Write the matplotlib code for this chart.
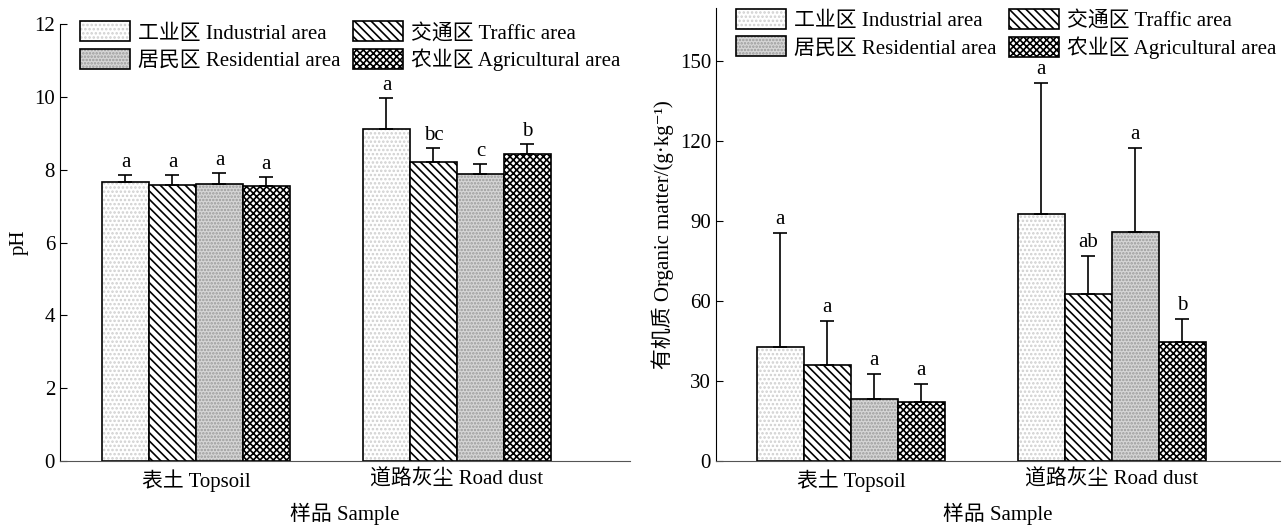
import numpy as np
import matplotlib
matplotlib.use("Agg")
import matplotlib.pyplot as plt
from matplotlib.patches import Patch
from matplotlib.legend_handler import HandlerTuple

plt.rcParams['font.family'] = ['Liberation Serif', 'Noto Sans CJK SC', 'DejaVu Serif']
plt.rcParams['hatch.linewidth'] = 1.2

groups = ['表土 Topsoil', '道路灰尘 Road dust']
areas = ['工业区 Industrial area', '交通区 Traffic area',
         '居民区 Residential area', '农业区 Agricultural area']

# pH: mean and error per area, [topsoil, road dust]
ph_mean = [[7.66, 9.12], [7.58, 8.21], [7.60, 7.88], [7.55, 8.43]]
ph_err = [[0.20, 0.85], [0.27, 0.39], [0.30, 0.27], [0.25, 0.27]]
ph_sig = [['a', 'a'], ['a', 'bc'], ['a', 'c'], ['a', 'b']]

om_mean = [[42.7, 92.6], [36.0, 62.6], [23.2, 85.9], [22.1, 44.6]]
om_err = [[42.8, 49.1], [16.5, 14.3], [9.4, 31.5], [6.8, 8.6]]
om_sig = [['a', 'a'], ['a', 'ab'], ['a', 'a'], ['a', 'b']]

# face, hatch, hatch colour
styles = [('white', '....', '#cfcfcf'),
          ('white', '\\\\\\\\', 'black'),
          ('#d6d6d6', '.....', '#9a9a9a'),
          ('white', 'xxxxx', 'black')]

width = 0.18
x = np.arange(len(groups))


def draw(ax, means, errs, sigs, ylim, yticks, ylabel, offset, leg_y):
    for i in range(4):
        face, hatch, hc = styles[i]
        pos = x + (i - 1.5) * width
        ax.bar(pos, means[i], width, color=face, hatch=hatch, edgecolor=hc, linewidth=0)
        ax.bar(pos, means[i], width, fill=False, edgecolor='black', linewidth=1.2)
        ax.errorbar(pos, means[i], yerr=[np.zeros(2), errs[i]], fmt='none',
                    ecolor='black', elinewidth=1.2, capsize=5, capthick=1.2)
        for j in range(2):
            ax.text(pos[j], means[i][j] + errs[i][j] + offset, sigs[i][j],
                    ha='center', va='bottom', fontsize=15)
    ax.set_ylim(*ylim)
    ax.set_yticks(yticks)
    ax.set_xticks(x)
    ax.set_xticklabels(groups, fontsize=15)
    ax.tick_params(axis='x', length=0, pad=6)
    ax.tick_params(axis='y', direction='in', labelsize=15, length=5)
    ax.spines['top'].set_visible(False)
    ax.spines['right'].set_visible(False)
    ax.spines['bottom'].set_color('#555555')
    ax.set_xlabel('样品 Sample', fontsize=15, labelpad=8)
    ax.set_ylabel(ylabel, fontsize=15)
    handles = []
    for face, hatch, hc in styles:
        handles.append((Patch(facecolor=face, hatch=hatch, edgecolor=hc, linewidth=0),
                        Patch(fill=False, edgecolor='black', linewidth=1.2)))
    order = [0, 2, 1, 3]
    ax.legend([handles[k] for k in order], [areas[k] for k in order], ncol=2,
              handler_map={tuple: HandlerTuple(ndivide=1, pad=0)},
              frameon=False, fontsize=15, loc='upper left', bbox_to_anchor=(0.02, leg_y),
              handlelength=2.4, handleheight=1.1, columnspacing=0.6, handletextpad=0.4,
              labelspacing=0.25, borderaxespad=0.0)


fig = plt.figure(figsize=(12.87, 5.30), dpi=100)
ax1 = fig.add_axes([0.0466, 0.1302, 0.4429, 0.8245])
ax2 = fig.add_axes([0.5563, 0.1302, 0.4382, 0.8547])

draw(ax1, ph_mean, ph_err, ph_sig, (0, 12), [0, 2, 4, 6, 8, 10, 12], 'pH', 0.08, 1.025)
draw(ax2, om_mean, om_err, om_sig, (0, 170), [0, 30, 60, 90, 120, 150],
     '有机质 Organic matter/(g·kg⁻¹)', 1.5, 1.016)
ax1.set_xlim(-0.521, 1.663)
ax2.set_xlim(-0.517, 1.644)

fig.savefig('out.png', dpi=100)
